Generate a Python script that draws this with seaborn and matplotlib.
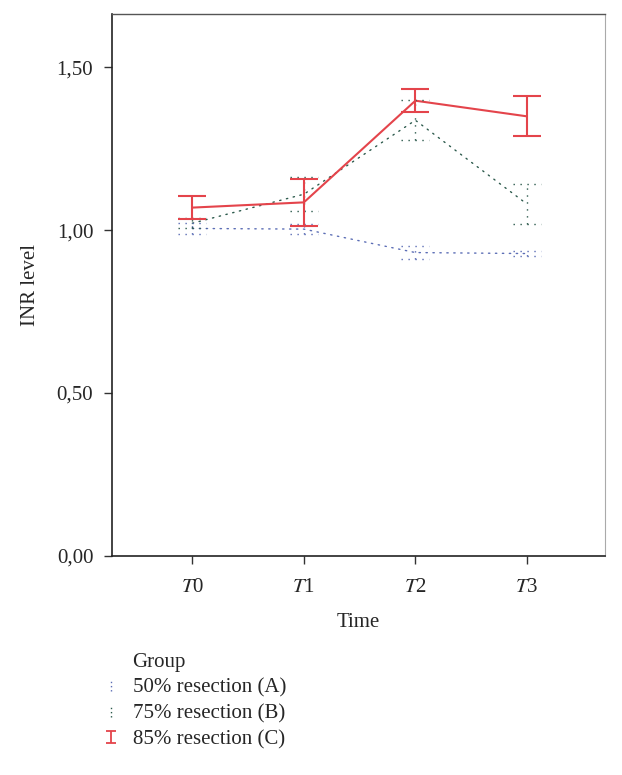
import numpy as np
import pandas as pd
import matplotlib
matplotlib.use("Agg")
import matplotlib.pyplot as plt
from matplotlib.container import ErrorbarContainer
from matplotlib.legend_handler import HandlerErrorbar
import seaborn as sns

groups = ['50% resection (A)', '75% resection (B)', '85% resection (C)']
time_labels = ['$T$0', '$T$1', '$T$2', '$T$3']
time_pos = [0, 1, 2, 3]

mean_a = [1.005, 1.003, 0.931, 0.928]
err_a = [0.017, 0.015, 0.019, 0.008]
mean_b = [1.021, 1.110, 1.337, 1.080]
err_b = [0.016, 0.052, 0.061, 0.062]
mean_c = [1.069, 1.085, 1.397, 1.349]
err_c = [0.036, 0.071, 0.036, 0.061]

y_ticks = [0.0, 0.5, 1.0, 1.5]
y_tick_labels = ['0,00', '0,50', '1,00', '1,50']

colors = {groups[0]: '#5b6db5', groups[1]: '#2c5a4c', groups[2]: '#e4444b'}
dots = (1, 4)

rows = []
for g, means, errs in zip(groups, [mean_a, mean_b, mean_c], [err_a, err_b, err_c]):
    for t, m, e in zip(time_pos, means, errs):
        rows.append({'Group': g, 'Time': t, 'INR': m, 'err': e})
df = pd.DataFrame(rows)

sns.set_theme(style="ticks")
plt.rcParams['font.family'] = ['Liberation Serif', 'DejaVu Serif']
plt.rcParams['mathtext.fontset'] = 'stix'
fs = 15

fig = plt.figure(figsize=(6.22, 7.75), dpi=100)
ax = fig.add_axes([112 / 622, 1 - 556 / 775, (605 - 112) / 622, (556 - 14) / 775])

sns.lineplot(data=df, x='Time', y='INR', hue='Group', style='Group',
             palette=colors, dashes={groups[0]: dots, groups[1]: dots, groups[2]: ''},
             linewidth=1.0, legend=False, ax=ax, errorbar=None)
for line in ax.lines[:2]:
    line.set_dash_capstyle('round')
ax.lines[2].set_linewidth(1.5)

# error bars (mean +/- error), dotted caps for A and B
cap_w = 0.125
for g in groups:
    sub = df[df['Group'] == g]
    c = colors[g]
    if g == groups[2]:
        ax.errorbar(sub['Time'], sub['INR'], yerr=sub['err'], fmt='none',
                    ecolor=c, elinewidth=1.5, capsize=10, capthick=1.5, zorder=5)
    else:
        eb = ax.errorbar(sub['Time'], sub['INR'], yerr=sub['err'], fmt='none',
                         ecolor=c, elinewidth=1.0, capsize=0, zorder=3)
        eb[2][0].set_linestyle((0, dots))
        lo = sub['INR'] - sub['err']
        hi = sub['INR'] + sub['err']
        ax.hlines(list(lo) + list(hi), list(sub['Time'] - cap_w) * 2, list(sub['Time'] + cap_w) * 2,
                  colors=c, linestyles=[(0, dots)], linewidth=1.0, zorder=3)

# small proxies for the legend
handles = []
for g in groups:
    c = colors[g]
    if g == groups[2]:
        p = ax.errorbar([np.nan], [np.nan], yerr=[0.1], fmt='none', ecolor=c,
                        elinewidth=1.3, capsize=3.5, capthick=1.3)
    else:
        p = ax.errorbar([np.nan], [np.nan], yerr=[0.1], fmt='none', ecolor=c,
                        elinewidth=1.0, capsize=0)
        p[2][0].set_linestyle((0, (1, 2)))
    handles.append(p)

ax.set_xlim(-0.72, 3.7)
ax.set_ylim(0, 1.663)
ax.set_xticks(time_pos)
ax.set_xticklabels(time_labels)
ax.set_yticks(y_ticks)
ax.set_yticklabels(y_tick_labels)
ax.tick_params(axis='both', labelsize=fs, length=5.5, width=1.0, color='#333333')
ax.tick_params(axis='x', pad=10)
ax.tick_params(axis='y', pad=8)
ax.set_xlabel('Time', fontsize=fs, labelpad=12)
ax.set_ylabel('INR level', fontsize=fs, labelpad=12)

for side in ['left', 'bottom']:
    ax.spines[side].set_color('#222222')
    ax.spines[side].set_linewidth(1.2)
ax.spines['top'].set_color('#555555')
ax.spines['top'].set_linewidth(1.0)
ax.spines['right'].set_color('#aaaaaa')
ax.spines['right'].set_linewidth(0.8)

fig.text(132 / 622, 1 - 663 / 775, 'Group', fontsize=fs, va='center', ha='left')
leg = fig.legend(handles, groups, loc='upper left',
                 bbox_to_anchor=(105 / 622, 1 - 678 / 775), frameon=False,
                 fontsize=fs, borderpad=0, borderaxespad=0,
                 handlelength=0.6, handletextpad=0.75, labelspacing=0.3,
                 handler_map={ErrorbarContainer: HandlerErrorbar(xerr_size=0.3, yerr_size=0.28)})

fig.savefig('out.png', dpi=100)
